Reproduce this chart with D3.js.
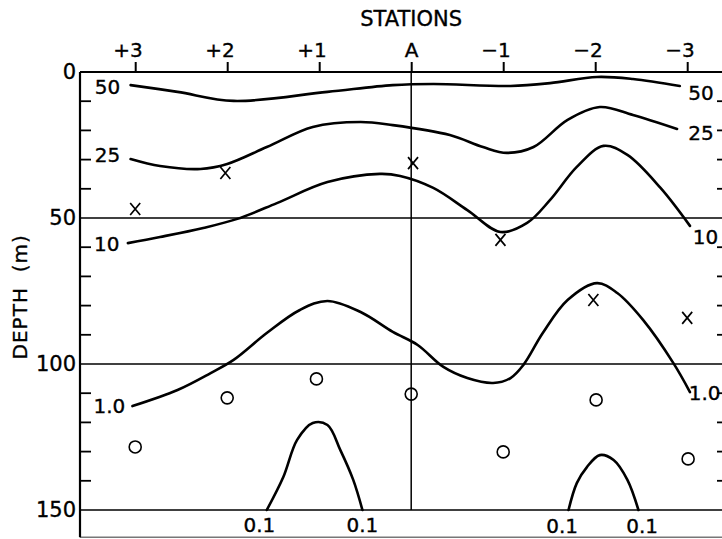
<!DOCTYPE html>
<html>
<head>
<meta charset="utf-8">
<script src="https://cdn.jsdelivr.net/npm/d3@7"></script>
<style>
  html, body { margin: 0; padding: 0; background: #fff; }
  svg { display: block; }
  text { font-family: "DejaVu Sans", "Liberation Sans", sans-serif; fill: #000; stroke: #000; stroke-width: 0.35px; }
</style>
</head>
<body>
<svg id="chart" width="722" height="539"></svg>
<script>
// ---------- data ----------
const stationLabels = ["+3", "+2", "+1", "A", "\u22121", "\u22122", "\u22123"];
const stationValues = [3, 2, 1, 0, -1, -2, -3];
const depthLabels = [0, 50, 100, 150];
const depthMinor = [10, 20, 30, 40, 60, 70, 80, 90, 110, 120, 130, 140];

// contour lines: [station, depth (m)]
const iso50 = [[3.05,4.5],[2.54,6.8],[1.93,9.9],[0.91,6.8],[0.2,4.5],[-0.24,4.1],[-1.08,4.8],[-1.51,3.8],[-2.02,1.7],[-2.41,2.4],[-2.92,4.8]];
const iso25 = [[3.05,29.8],[2.73,32.2],[2.29,33.2],[2.0,31.5],[1.57,25.7],[1.07,18.8],[0.55,17.1],[0.2,18.2],[-0.42,21.6],[-0.78,25.7],[-1.04,27.7],[-1.33,25.7],[-1.7,16.4],[-2.05,12.0],[-2.41,14.7],[-2.89,19.5]];
const iso10 = [[3.08,58.6],[2.73,56.5],[2.26,53.4],[1.89,50.3],[1.46,44.9],[0.91,37.7],[0.34,34.9],[0.12,35.6],[-0.24,39.7],[-0.61,47.3],[-0.97,54.8],[-1.26,51.7],[-1.51,43.8],[-1.8,32.5],[-2.09,25.3],[-2.35,28.4],[-2.71,39.7],[-3.03,52.7]];
const iso1 = [[3.03,114.4],[2.54,108.9],[2.18,103.1],[1.93,98.6],[1.57,89.4],[1.21,81.5],[0.91,78.4],[0.55,82.2],[0.2,89.0],[-0.07,93.5],[-0.35,101.0],[-0.61,104.8],[-0.89,106.5],[-1.08,104.8],[-1.22,100.3],[-1.43,89.4],[-1.7,78.1],[-2.02,72.3],[-2.24,75.7],[-2.52,84.9],[-2.85,99.7],[-3.03,109.6]];
const iso01West = [[1.57,150],[1.39,138.7],[1.24,126],[1.07,120.2],[0.91,120.9],[0.77,129.5],[0.63,139.7],[0.53,150]];
const iso01East = [[-1.71,150],[-1.8,140.8],[-1.91,135.3],[-2.05,131.2],[-2.2,132.9],[-2.35,139.7],[-2.47,150]];

// sample markers
const crossSamples = [[3.0,46.9],[2.02,34.6],[-0.02,31.2],[-0.97,57.5],[-1.98,78.1],[-3.0,84.2]];
const circleSamples = [[3.0,128.4],[2.0,111.6],[1.03,105.1],[0.0,110.3],[-1.0,130.1],[-2.01,112.3],[-3.01,132.5]];

// contour labels: [text, station, depth]
const contourLabels = [
  ["50", 3.30, 5.2], ["25", 3.30, 28.5], ["10", 3.31, 59.0], ["1.0", 3.28, 114.5],
  ["50", -3.15, 7.3], ["25", -3.15, 21.0], ["10", -3.20, 56.5], ["1.0", -3.19, 110.0],
  ["0.1", 1.65, 155.3], ["0.1", 0.53, 155.3], ["0.1", -1.64, 155.6], ["0.1", -2.51, 155.6]
];
const frameBottomDepth = 159.3;

// ---------- drawing ----------
const svg = d3.select("#chart");
const x = d3.scaleLinear().domain([3.6, -3.4]).range([80, 724]);
const y = d3.scaleLinear().domain([0, 150]).range([72, 510]);

const line = d3.line().x(d => x(d[0])).y(d => y(d[1])).curve(d3.curveCatmullRom.alpha(0.5));

// gridlines at labelled depths (0 is the top frame)
svg.append("g").selectAll("line").data(depthLabels).join("line")
  .attr("x1", x.range()[0]).attr("x2", x.range()[1])
  .attr("y1", d => y(d)).attr("y2", d => y(d))
  .attr("stroke", "#000").attr("stroke-width", d => d === 0 ? 2.2 : 1.5);

// bottom frame
svg.append("line")
  .attr("x1", x.range()[0]).attr("x2", x.range()[1])
  .attr("y1", y(frameBottomDepth)).attr("y2", y(frameBottomDepth))
  .attr("stroke", "#777").attr("stroke-width", 1.5);

// left frame
svg.append("line")
  .attr("x1", x.range()[0]).attr("x2", x.range()[0])
  .attr("y1", y(0)).attr("y2", y(frameBottomDepth))
  .attr("stroke", "#000").attr("stroke-width", 2.2);

// vertical line at station A
svg.append("line")
  .attr("x1", x(0)).attr("x2", x(0))
  .attr("y1", y(0)).attr("y2", y(150))
  .attr("stroke", "#000").attr("stroke-width", 1.5);

// minor ticks, left (inward) and right (inward)
svg.append("g").selectAll("line").data(depthMinor).join("line")
  .attr("x1", x.range()[0]).attr("x2", x.range()[0] + 11)
  .attr("y1", d => y(d)).attr("y2", d => y(d))
  .attr("stroke", "#000").attr("stroke-width", 1.8);
svg.append("g").selectAll("line").data(depthMinor).join("line")
  .attr("x1", x.range()[1]).attr("x2", x.range()[1] - 7)
  .attr("y1", d => y(d)).attr("y2", d => y(d))
  .attr("stroke", "#000").attr("stroke-width", 1.8);

// top axis: stations
const topAxis = d3.axisTop(x).tickValues(stationValues)
  .tickFormat((d, i) => stationLabels[i]).tickSizeInner(10).tickSizeOuter(0).tickPadding(5);
const gTop = svg.append("g").attr("transform", `translate(0,${y(0)})`).call(topAxis);
gTop.select(".domain").remove();
gTop.selectAll(".tick line").attr("stroke", "#000").attr("stroke-width", 2);
gTop.selectAll(".tick text")
  .attr("font-size", 20).attr("font-family", null)
  .attr("text-anchor", (d, i) => stationLabels[i] === "A" ? "middle" : "end")
  .attr("dx", (d, i) => stationLabels[i] === "A" ? 0 : 7)
  .attr("dy", 0);

svg.append("text").text("STATIONS")
  .attr("x", x(0)).attr("y", 26)
  .attr("text-anchor", "middle").attr("font-size", 21);

// left axis labels
const leftAxis = d3.axisLeft(y).tickValues(depthLabels).tickSize(0).tickPadding(4);
const gLeft = svg.append("g").attr("transform", `translate(${x.range()[0]},0)`).call(leftAxis);
gLeft.select(".domain").remove();
gLeft.selectAll(".tick text").attr("font-size", 21).attr("font-family", null).attr("fill", "#000");

svg.append("text").text("DEPTH  (m)")
  .attr("transform", `translate(27,${y(77)}) rotate(-90)`)
  .attr("text-anchor", "middle").attr("font-size", 20)
  .attr("letter-spacing", 1).style("white-space", "pre");

// contour lines
const contours = [iso50, iso25, iso10, iso1, iso01West, iso01East];
svg.append("g").selectAll("path").data(contours).join("path")
  .attr("d", line).attr("fill", "none")
  .attr("stroke", "#000").attr("stroke-width", 2.6).attr("stroke-linecap", "round");

// contour labels
svg.append("g").selectAll("text").data(contourLabels).join("text")
  .text(d => d[0])
  .attr("x", d => x(d[1])).attr("y", d => y(d[2]))
  .attr("text-anchor", "middle").attr("dominant-baseline", "central")
  .attr("font-size", 20);

// sample markers: crosses
svg.append("g").selectAll("path").data(crossSamples).join("path")
  .attr("transform", d => `translate(${x(d[0])},${y(d[1])})`)
  .attr("d", "M-5,-6L5,6M5,-6L-5,6")
  .attr("stroke", "#000").attr("stroke-width", 1.7).attr("fill", "none");

// sample markers: circles
svg.append("g").selectAll("circle").data(circleSamples).join("circle")
  .attr("cx", d => x(d[0])).attr("cy", d => y(d[1])).attr("r", 6)
  .attr("fill", "none").attr("stroke", "#000").attr("stroke-width", 1.6);
</script>
</body>
</html>
